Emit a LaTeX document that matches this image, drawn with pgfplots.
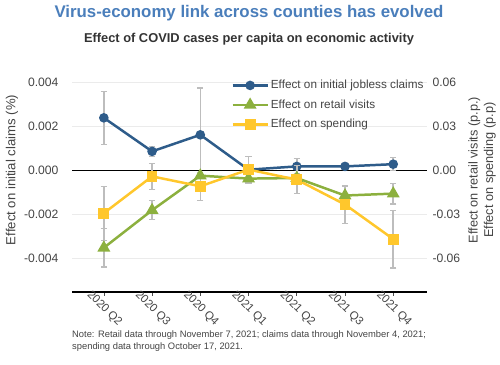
\documentclass[border=0pt]{standalone}
\usepackage{fontspec}
\setmainfont{Liberation Sans}
\usepackage{pgfplots}
\pgfplotsset{compat=1.18}
\usepackage{pgfplotstable}

\definecolor{cblue}{HTML}{2E5C8A}
\definecolor{cgreen}{HTML}{8CB03E}
\definecolor{cyellow}{HTML}{FFC72C}
\definecolor{ctitle}{HTML}{4A7EBB}
\definecolor{cerr}{HTML}{BDBDBD}
\definecolor{cgrid}{HTML}{EBEBEB}
\definecolor{ctext}{HTML}{444444}

\pgfplotstableread{
x y e
0 0.00238 0.00120
1 0.00086 0.00022
2 0.00161 0.00212
3 0.00003 0.00010
4 0.00018 0.00035
5 0.00018 0.00010
6 0.00028 0.00030
}\claims
\pgfplotstableread{
x y e
0 -0.0526 0.0130
1 -0.0271 0.0065
2 -0.0036 0.0020
3 -0.0056 0.0030
4 -0.0052 0.0030
5 -0.0171 0.0060
6 -0.0158 0.0070
}\retail
\pgfplotstableread{
x y e
0 -0.0291 0.0183
1 -0.0041 0.0088
2 -0.0108 0.0095
3 0.0005 0.0090
4 -0.0063 0.0095
5 -0.0232 0.0130
6 -0.0467 0.0197
}\spending

\pgfplotsset{
  base/.style={scale only axis, width=355bp, height=232bp,
    at={(72bp,73bp)}, anchor=south west, xmin=-0.66, xmax=6.7,
    scaled y ticks=false,
    tick label style={font=\fontsize{12.2}{14}\selectfont, text=ctext}},
  errp/.style={draw=none, mark=none, forget plot,
    error bars/.cd, y dir=both, y explicit,
    error bar style={draw=cerr, line width=1.6pt, solid},
    error mark=-,
    error mark options={rotate=90, draw=cerr, line width=1.2pt, mark size=3.2pt, solid}},
  legimg/.style={legend image code/.code={
    \draw[mark repeat=2, mark phase=2, ##1] plot coordinates {(0bp,0bp) (17.5bp,0bp) (35bp,0bp)};}},
  sblue/.style={cblue, line width=2.5pt, mark=*, mark size=3.5pt, mark options={solid}, legimg},
  sgreen/.style={cgreen, line width=2.5pt, mark=triangle*, mark size=5pt, mark options={solid}, legimg},
  syellow/.style={cyellow, line width=2.5pt, mark=square*, mark size=4.2pt, mark options={solid}, legimg},
}

\begin{document}
\begin{tikzpicture}
\useasboundingbox (0,0) rectangle (500bp,365bp);
\begin{axis}[base,
  ymin=-0.00551, ymax=0.005,
  axis x line*=bottom, axis y line*=left,
  y axis line style={draw=none},
  x axis line style={black, line width=1.5pt, -},
  xtick={0,...,6},
  xticklabels={2020 Q2,2020 Q3,2020 Q4,2021 Q1,2021 Q2,2021 Q3,2021 Q4},
  x tick style={black!70, line width=0.6pt},
  xtick align=outside, major tick length=4bp,
  xticklabel style={rotate=-45, anchor=north west, xshift=-16bp, font=\fontsize{11.5}{13}\selectfont},
  ytick={-0.004,-0.002,0,0.002,0.004},
  yticklabels={-0.004,-0.002,0.000,0.002,0.004},
  ytick style={draw=none},
  yticklabel style={anchor=east, xshift=-10bp},
  ymajorgrids, grid style={cgrid, line width=0.8pt},
  extra y ticks={0}, extra y tick labels={},
  extra y tick style={grid style={black, line width=1.3pt}},
]
\addplot[errp] table[x=x, y=y, y error=e]{\claims};
\addplot[sblue] table[x=x, y=y]{\claims};
\end{axis}
\begin{axis}[base,
  ymin=-0.08265, ymax=0.075,
  axis x line=none, axis y line*=right,
  y axis line style={draw=none},
  xtick=\empty,
  ytick={-0.06,-0.03,0,0.03,0.06},
  yticklabels={-0.06,-0.03,0.00,0.03,0.06},
  ytick style={draw=none},
  yticklabel style={anchor=west, xshift=2bp},
  legend style={at={(0.44,0.93)}, anchor=north west, draw=none, fill=none,
    font=\fontsize{11.8}{14}\selectfont, text=ctext, row sep=5.5bp},
  legend cell align=left,
]
\addlegendimage{sblue}
\addlegendentry{Effect on initial jobless claims}
\addplot[errp] table[x=x, y=y, y error=e]{\retail};
\addplot[errp] table[x=x, y=y, y error=e]{\spending};
\addplot[sgreen] table[x=x, y=y]{\retail};
\addlegendentry{Effect on retail visits}
\addplot[syellow] table[x=x, y=y]{\spending};
\addlegendentry{Effect on spending}
\end{axis}
\node[font=\bfseries\fontsize{16.9}{20}\selectfont, text=ctitle] at (249bp,352bp) {Virus-economy link across counties has evolved};
\node[font=\bfseries\fontsize{12.9}{15}\selectfont, text=black!80] at (249bp,326bp) {Effect of COVID cases per capita on economic activity};
\node[rotate=90, font=\fontsize{13.2}{15}\selectfont, text=ctext] at (12bp,195bp) {Effect on initial claims (\%)};
\node[rotate=90, align=center, font=\fontsize{12.8}{15.5}\selectfont, text=ctext] at (482bp,195bp) {Effect on retail visits (p.p.)\\Effect on spending (p.p)};
\node[anchor=north west, align=left, inner sep=0pt, font=\fontsize{9.4}{12}\selectfont, text=ctext] at (72bp,34bp) {Note: Retail data through November 7, 2021; claims data through November 4, 2021;\\spending data through October 17, 2021.};
\end{tikzpicture}
\end{document}
